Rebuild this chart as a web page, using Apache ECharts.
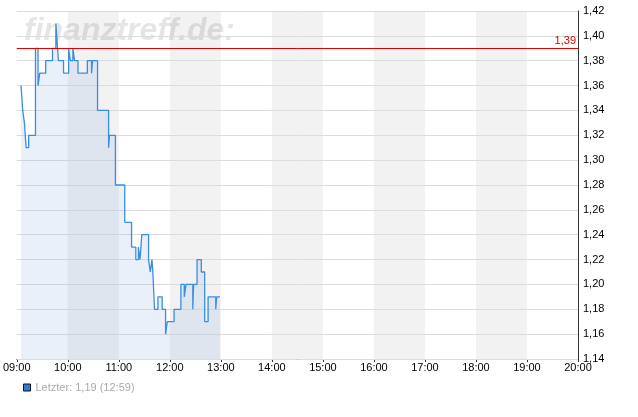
<!DOCTYPE html>
<html>
<head>
<meta charset="utf-8">
<script src="https://cdn.jsdelivr.net/npm/echarts@6/dist/echarts.min.js"></script>
<style>
  html, body { margin: 0; padding: 0; background: #fff; }
  #chart { width: 638px; height: 417px; }
</style>
</head>
<body>
<div id="chart"></div>
<script>
  // Kursverlauf (Zeit der Änderung, neuer Kurs)
  const times = ['09:05', '09:07', '09:09', '09:11', '09:14', '09:22', '09:25', '09:27', '09:34', '09:42',
    '09:46', '09:48', '09:49', '09:55', '10:01', '10:03', '10:06', '10:08', '10:12', '10:23',
    '10:28', '10:29', '10:35', '10:48', '10:49', '10:56', '11:07', '11:15', '11:20', '11:23',
    '11:25', '11:27', '11:35', '11:37', '11:39', '11:40', '11:42', '11:46', '11:51', '11:55',
    '11:57', '12:05', '12:13', '12:17', '12:19', '12:27', '12:28', '12:32', '12:37', '12:41',
    '12:45', '12:54', '12:55', '12:59'];
  const prices = [1.36, 1.34, 1.33, 1.31, 1.32, 1.39, 1.36, 1.37, 1.38, 1.39,
    1.41, 1.39, 1.38, 1.37, 1.39, 1.38, 1.39, 1.38, 1.37, 1.38,
    1.37, 1.38, 1.34, 1.31, 1.32, 1.28, 1.25, 1.23, 1.22, 1.23,
    1.22, 1.24, 1.22, 1.21, 1.22, 1.21, 1.18, 1.19, 1.18, 1.16,
    1.17, 1.18, 1.20, 1.19, 1.20, 1.18, 1.20, 1.22, 1.21, 1.17,
    1.19, 1.18, 1.19, 1.19];
  const dayStart = '09:00';
  const dayEnd = '20:00';
  const yMin = 1.14, yMax = 1.42, yStep = 0.02;
  const refPrice = 1.39;

  const toMin = t => { const [h, m] = t.split(':').map(Number); return h * 60 + m; };
  const pad = n => String(n).padStart(2, '0');
  const fmtPrice = v => v.toFixed(2).replace('.', ',');

  const seriesData = times.map((t, i) => [toMin(t), prices[i]]);
  const lastName = 'Letzter: ' + fmtPrice(prices[prices.length - 1]) + ' (' + times[times.length - 1] + ')';
  const font = "'Liberation Sans', Arial, sans-serif";

  const chart = echarts.init(document.getElementById('chart'));
  const option = {
    animation: false,
    grid: { left: 16, right: 60, top: 11, bottom: 58 },
    graphic: [{
      type: 'text', left: 24, top: 15, z: 1, silent: true,
      style: {
        text: 'finanztreff.de:', fontSize: 32, fontStyle: 'italic', fontWeight: 'bold',
        fontFamily: font, fill: 'rgba(0,0,0,0.1)'
      }
    }],
    legend: {
      left: 18, top: 377, itemWidth: 7, itemHeight: 7, itemGap: 10,
      icon: 'rect',
      textStyle: { color: '#aaa', fontSize: 11, fontFamily: font },
      data: [{ name: lastName, itemStyle: { color: '#2b7ddb', borderColor: '#111', borderWidth: 1 } }]
    },
    xAxis: {
      type: 'value', min: toMin(dayStart), max: toMin(dayEnd), interval: 60, z: 0,
      axisLine: { lineStyle: { color: '#333', width: 1 } },
      axisTick: { show: true, length: 3, lineStyle: { color: '#333' } },
      axisLabel: {
        color: '#000', fontSize: 11, fontFamily: font, margin: 3,
        formatter: v => pad(Math.floor(v / 60)) + ':' + pad(v % 60)
      },
      splitLine: { show: false },
      splitArea: { show: true, areaStyle: { color: ['rgba(255,255,255,0)', '#f2f2f2'] } }
    },
    yAxis: {
      type: 'value', position: 'right', min: yMin, max: yMax, interval: yStep, z: 1,
      axisLine: { show: true, lineStyle: { color: '#333', width: 1 } },
      axisTick: { show: false },
      axisLabel: { color: '#000', fontSize: 11, fontFamily: font, margin: 5, formatter: v => fmtPrice(v) },
      splitLine: { lineStyle: { color: '#dcdcdc', width: 1 } }
    },
    series: [{
      name: lastName,
      type: 'line',
      step: 'end',
      symbol: 'none',
      z: 3,
      data: seriesData,
      lineStyle: { color: '#3a8ee2', width: 1.3 },
      itemStyle: { color: '#2b7ddb' },
      areaStyle: { color: 'rgba(150,185,225,0.3)', origin: 'start' },
      markLine: {
        silent: true, symbol: 'none', animation: false,
        lineStyle: { color: '#e00000', type: 'solid', width: 1 },
        label: { position: 'insideEndTop', formatter: () => fmtPrice(refPrice), color: '#e00000', fontSize: 11, fontFamily: font, distance: [2, 2] },
        data: [{ yAxis: refPrice }]
      }
    }]
  };
  chart.setOption(option);
</script>
</body>
</html>
